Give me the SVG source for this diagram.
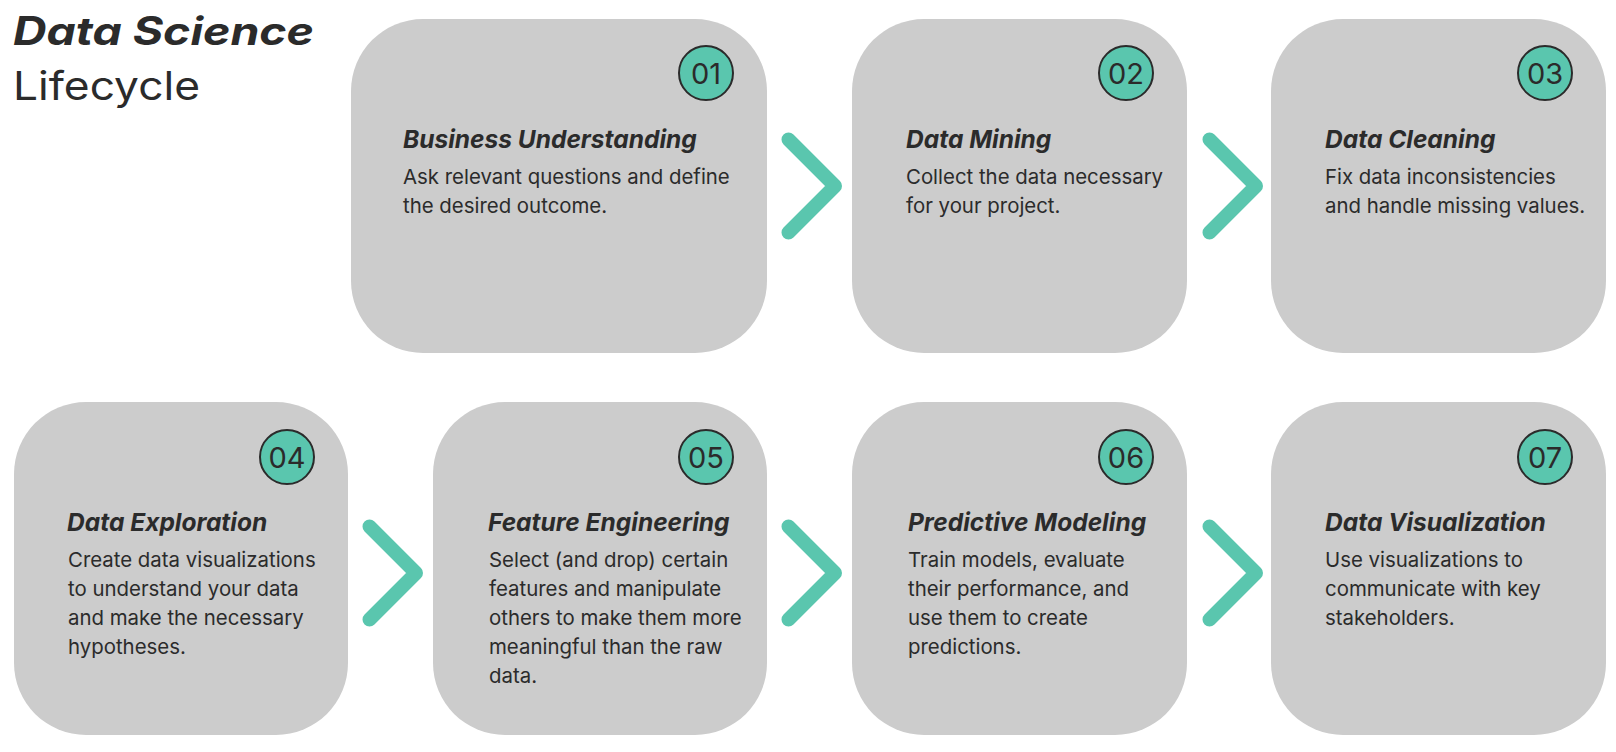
<svg xmlns="http://www.w3.org/2000/svg" width="1616" height="752" viewBox="0 0 1616 752">
  <style>
    .card { fill: #cccccc; }
    .badge { fill: #5ac6ae; stroke: #2b2b2b; stroke-width: 2; }
    .num { font-family: Inter, "Liberation Sans", sans-serif; font-size: 29px; fill: #2b2b2b; text-anchor: middle; }
    .head { font-family: Inter, "Liberation Sans", sans-serif; font-size: 24.5px; font-weight: 700; font-style: italic; fill: #2b2b2b; }
    .desc { font-family: Inter, "Liberation Sans", sans-serif; font-size: 20.4px; fill: #2b2b2b; }
    .chev { fill: none; stroke: #5ac6ae; stroke-width: 14; stroke-linecap: round; stroke-linejoin: round; }
    .t1 { font-family: Inter, "Liberation Sans", sans-serif; font-size: 39px; font-weight: 700; font-style: italic; fill: #2b2b2b; }
    .t2 { font-family: Inter, "Liberation Sans", sans-serif; font-size: 39px; fill: #2b2b2b; }
  </style>

  <rect width="1616" height="752" fill="#ffffff"/>

  <!-- heading -->
  <g id="heading">
    <text class="t1" x="13" y="45" textLength="301" lengthAdjust="spacingAndGlyphs">Data Science</text>
    <text class="t2" x="13" y="100" textLength="187" lengthAdjust="spacingAndGlyphs">Lifecycle</text>
  </g>

  <!-- step arrows -->
  <g id="connectors">
    <path class="chev" d="M788.5 139.5 L835 186 L788.5 232.5"/>
    <path class="chev" d="M1209.5 139.5 L1256 186 L1209.5 232.5"/>
    <path class="chev" d="M369.5 526.5 L416 573 L369.5 619.5"/>
    <path class="chev" d="M788.5 526.5 L835 573 L788.5 619.5"/>
    <path class="chev" d="M1209.5 526.5 L1256 573 L1209.5 619.5"/>
  </g>

  <g id="step-01">
    <rect class="card" x="351" y="19" width="416" height="334" rx="72"/>
    <circle class="badge" cx="706" cy="73" r="27"/>
    <text class="num" x="706" y="83.5">01</text>
    <text class="head" x="403" y="148">Business Understanding</text>
    <text class="desc" x="403" y="184">Ask relevant questions and define</text>
    <text class="desc" x="403" y="213">the desired outcome.</text>
  </g>

  <g id="step-02">
    <rect class="card" x="852" y="19" width="335" height="334" rx="72"/>
    <circle class="badge" cx="1126" cy="73" r="27"/>
    <text class="num" x="1126" y="83.5">02</text>
    <text class="head" x="906" y="148">Data Mining</text>
    <text class="desc" x="906" y="184">Collect the data necessary</text>
    <text class="desc" x="906" y="213">for your project.</text>
  </g>

  <g id="step-03">
    <rect class="card" x="1271" y="19" width="335" height="334" rx="72"/>
    <circle class="badge" cx="1545" cy="73" r="27"/>
    <text class="num" x="1545" y="83.5">03</text>
    <text class="head" x="1325" y="148">Data Cleaning</text>
    <text class="desc" x="1325" y="184">Fix data inconsistencies</text>
    <text class="desc" x="1325" y="213">and handle missing values.</text>
  </g>

  <g id="step-04">
    <rect class="card" x="14" y="402" width="334" height="333" rx="72"/>
    <circle class="badge" cx="287" cy="457" r="27"/>
    <text class="num" x="287" y="467.5">04</text>
    <text class="head" x="67" y="531">Data Exploration</text>
    <text class="desc" x="68" y="567">Create data visualizations</text>
    <text class="desc" x="68" y="596">to understand your data</text>
    <text class="desc" x="68" y="625">and make the necessary</text>
    <text class="desc" x="68" y="654">hypotheses.</text>
  </g>

  <g id="step-05">
    <rect class="card" x="433" y="402" width="334" height="333" rx="72"/>
    <circle class="badge" cx="706" cy="457" r="27"/>
    <text class="num" x="706" y="467.5">05</text>
    <text class="head" x="488" y="531">Feature Engineering</text>
    <text class="desc" x="489" y="567">Select (and drop) certain</text>
    <text class="desc" x="489" y="596">features and manipulate</text>
    <text class="desc" x="489" y="625">others to make them more</text>
    <text class="desc" x="489" y="654">meaningful than the raw</text>
    <text class="desc" x="489" y="683">data.</text>
  </g>

  <g id="step-06">
    <rect class="card" x="852" y="402" width="335" height="333" rx="72"/>
    <circle class="badge" cx="1126" cy="457" r="27"/>
    <text class="num" x="1126" y="467.5">06</text>
    <text class="head" x="908" y="531">Predictive Modeling</text>
    <text class="desc" x="908" y="567">Train models, evaluate</text>
    <text class="desc" x="908" y="596">their performance, and</text>
    <text class="desc" x="908" y="625">use them to create</text>
    <text class="desc" x="908" y="654">predictions.</text>
  </g>

  <g id="step-07">
    <rect class="card" x="1271" y="402" width="335" height="333" rx="72"/>
    <circle class="badge" cx="1545" cy="457" r="27"/>
    <text class="num" x="1545" y="467.5">07</text>
    <text class="head" x="1325" y="531">Data Visualization</text>
    <text class="desc" x="1325" y="567">Use visualizations to</text>
    <text class="desc" x="1325" y="596">communicate with key</text>
    <text class="desc" x="1325" y="625">stakeholders.</text>
  </g>
</svg>
